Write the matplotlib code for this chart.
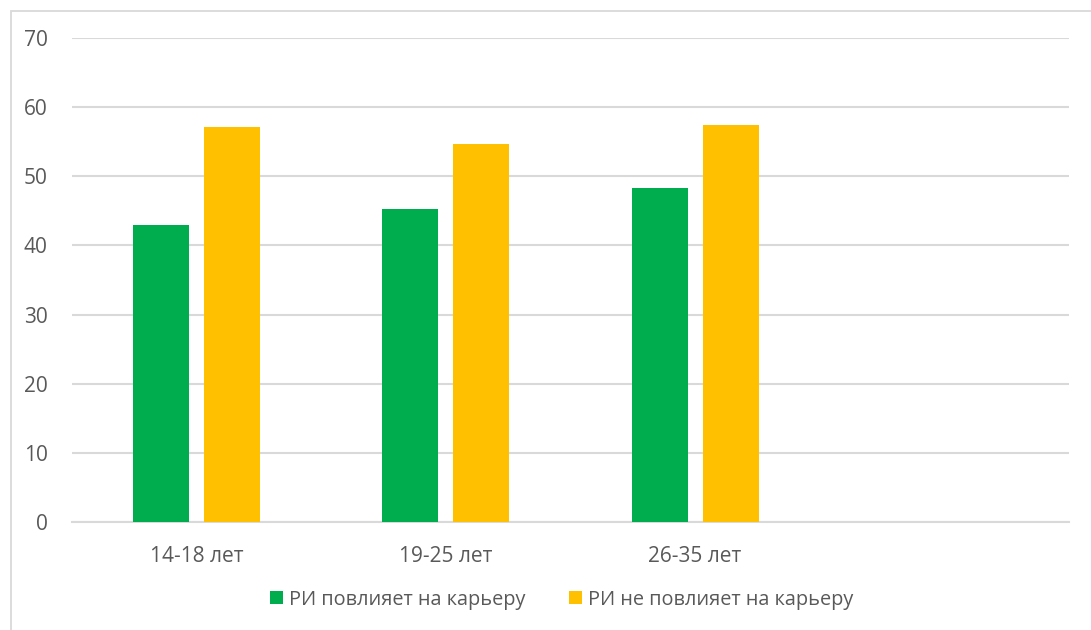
import matplotlib
matplotlib.use("Agg")
import matplotlib.pyplot as plt
import numpy as np
from matplotlib.patches import Rectangle

# Data
categories = ["14-18 лет", "19-25 лет", "26-35 лет", ""]
series_names = ["РИ повлияет на карьеру", "РИ не повлияет на карьеру"]
influences = [42.9, 45.3, 48.3]
no_influence = [57.1, 54.7, 57.4]
y_ticks = [0, 10, 20, 30, 40, 50, 60, 70]

colors = ["#00AD4E", "#FFC000"]
text_color = "#595959"
grid_color = "#D9D9D9"

plt.rcParams["font.family"] = ["Open Sans", "DejaVu Sans"]

fig = plt.figure(figsize=(10.91, 6.30), dpi=100)
ax = fig.add_axes([0.066, 0.1714, 0.9138, 0.7683])

# Chart area frame (left and top borders)
fig.patches.append(Rectangle((11 / 1091, -0.1), 1.2, 1 - 11 / 630 + 0.1,
                             transform=fig.transFigure, fill=False,
                             edgecolor=grid_color, linewidth=1.3))

x = np.arange(len(categories))
width = 0.2247
offset = 0.1425
n = len(influences)
ax.bar(x[:n] - offset, influences, width, color=colors[0], label=series_names[0], zorder=3)
ax.bar(x[:n] + offset, no_influence, width, color=colors[1], label=series_names[1], zorder=3)

ax.set_xlim(-0.5, len(categories) - 0.5)
ax.set_ylim(0, 70)
ax.set_yticks(y_ticks)
ax.set_xticks(x)
ax.set_xticklabels(categories)

ax.yaxis.grid(True, color=grid_color, linewidth=1.5, zorder=0)
ax.xaxis.grid(False)
for s in ["top", "right", "left"]:
    ax.spines[s].set_visible(False)
ax.spines["bottom"].set_color(grid_color)
ax.spines["bottom"].set_linewidth(1.5)
ax.tick_params(axis="both", length=0, colors=text_color)
ax.tick_params(axis="y", labelsize=15, pad=17.5)
ax.tick_params(axis="x", labelsize=15, pad=17)

leg = fig.legend(loc="center", bbox_to_anchor=(0.5147, 0.0484), ncol=2, frameon=False,
                 fontsize=14.3, handlelength=0.65, handleheight=0.65,
                 handletextpad=0.3, columnspacing=2.2, borderpad=0)
for t in leg.get_texts():
    t.set_color(text_color)

fig.savefig("out.png", dpi=100, facecolor="white")
